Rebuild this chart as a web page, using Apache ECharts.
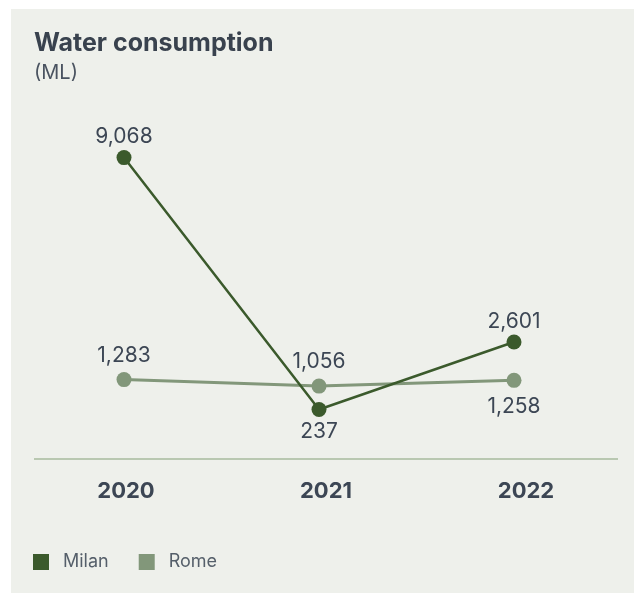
<!DOCTYPE html>
<html>
<head>
<meta charset="utf-8">
<script src="https://cdn.jsdelivr.net/npm/echarts@6/dist/echarts.min.js"></script>
<style>
  html, body { margin: 0; padding: 0; background: #ffffff; }
  #chart { width: 634px; height: 593px; }
</style>
</head>
<body>
<div id="chart"></div>
<script>
// Water consumption by site, in megalitres
const years = ['2020', '2021', '2022'];
const milan = [9068, 237, 2601];
const rome = [1283, 1056, 1258];

const MILAN_COLOR = '#3b5a2c';
const ROME_COLOR = '#82977a';
const TEXT_COLOR = '#3c4654';
const FONT = 'Inter, "Noto Sans", sans-serif';

const fmt = v => v.toLocaleString('en-US');

// Per-point label side: above or below the marker
function withLabels(values, sides, distances) {
  return values.map((v, i) => ({
    value: v,
    label: { position: sides[i], distance: distances[i] }
  }));
}

const chart = echarts.init(document.getElementById('chart'), null, { renderer: 'canvas' });

chart.setOption({
  backgroundColor: '#ffffff',
  animation: false,
  title: {
    text: 'Water consumption',
    subtext: '(ML)',
    left: 34,
    top: 31,
    padding: 0,
    itemGap: 7,
    textStyle: { fontFamily: FONT, fontSize: 25, fontWeight: 'bold', color: '#39424e' },
    subtextStyle: { fontFamily: FONT, fontSize: 20, color: '#4a5360' }
  },
  legend: {
    left: 33,
    top: 553,
    padding: 0,
    icon: 'rect',
    itemWidth: 16,
    itemHeight: 16,
    itemGap: 30,
    textStyle: { fontFamily: FONT, fontSize: 18, color: '#555f6a', padding: [0, 0, 0, 9] },
    data: ['Milan', 'Rome']
  },
  graphic: [
    {
      type: 'rect',
      z: -10,
      shape: { x: 11, y: 9, width: 623, height: 584 },
      style: { fill: '#eef0eb' },
      silent: true
    },
    {
      type: 'line',
      z: 0,
      shape: { x1: 34, y1: 459, x2: 618, y2: 459 },
      style: { stroke: '#b9c8b1', lineWidth: 2 },
      silent: true
    }
  ],
  grid: [
    { left: 26.5, right: 22.5, top: 131, bottom: 134 },
    { left: 26, right: 8, top: 131, bottom: 134 }
  ],
  xAxis: [
    {
      type: 'category',
      gridIndex: 0,
      data: years,
      boundaryGap: true,
      axisLine: { show: false },
      axisTick: { show: false },
      axisLabel: { show: false }
    },
    {
      type: 'category',
      gridIndex: 1,
      data: years,
      boundaryGap: true,
      axisLine: { show: false },
      axisTick: { show: false },
      axisLabel: {
        margin: 21,
        fontFamily: FONT,
        fontSize: 22,
        fontWeight: 'bold',
        color: TEXT_COLOR
      }
    }
  ],
  yAxis: [
    { type: 'value', gridIndex: 0, min: -1500, max: 10000, show: false },
    { type: 'value', gridIndex: 1, min: -1500, max: 10000, show: false }
  ],
  series: [
    {
      name: 'Rome',
      type: 'line',
      xAxisIndex: 0,
      yAxisIndex: 0,
      data: withLabels(rome, ['top', 'top', 'bottom'], [6, 6, 8]),
      color: ROME_COLOR,
      symbol: 'circle',
      symbolSize: 15,
      lineStyle: { width: 3, color: ROME_COLOR },
      itemStyle: { color: ROME_COLOR },
      label: {
        show: true,
        formatter: p => fmt(p.value),
        fontFamily: FONT,
        fontSize: 21,
        color: TEXT_COLOR
      },
      z: 2
    },
    {
      name: 'Milan',
      type: 'line',
      xAxisIndex: 0,
      yAxisIndex: 0,
      data: withLabels(milan, ['top', 'bottom', 'top'], [3, 4, 2]),
      color: MILAN_COLOR,
      symbol: 'circle',
      symbolSize: 15,
      lineStyle: { width: 2.5, color: MILAN_COLOR },
      itemStyle: { color: MILAN_COLOR },
      label: {
        show: true,
        formatter: p => fmt(p.value),
        fontFamily: FONT,
        fontSize: 21,
        color: TEXT_COLOR
      },
      z: 3
    }
  ]
});
</script>
</body>
</html>
